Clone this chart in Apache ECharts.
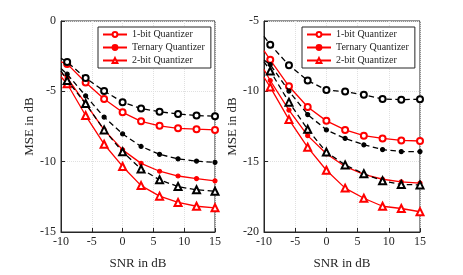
<!DOCTYPE html>
<html><head><meta charset="utf-8">
<script src="https://cdn.jsdelivr.net/npm/echarts@6/dist/echarts.min.js"></script>
<style>html,body{margin:0;padding:0;background:#fff}#c{width:463px;height:275px}</style>
</head><body><div id="c"></div>
<script>
const snr = [-10, -9, -6, -3, 0, 3, 6, 9, 12, 15];
const xTicks = [-10, -5, 0, 5, 10, 15];
const legendNames = ['1-bit Quantizer', 'Ternary Quantizer', '2-bit Quantizer'];

// Left panel
const leftBlack1bit   = [-2.65, -2.92, -4.05, -4.98, -5.77, -6.22, -6.45, -6.61, -6.72, -6.77];
const leftRed1bit     = [-2.90, -3.05, -4.37, -5.54, -6.49, -7.13, -7.45, -7.63, -7.69, -7.74];
const leftBlackTern   = [-3.37, -3.78, -5.32, -6.83, -8.03, -8.92, -9.48, -9.80, -9.96, -10.05];
const leftRedTern     = [-3.67, -4.05, -5.88, -7.74, -9.16, -10.12, -10.68, -11.02, -11.20, -11.36];
const leftBlack2bit   = [-3.55, -4.23, -5.87, -7.74, -9.30, -10.52, -11.29, -11.77, -12.00, -12.10];
const leftRed2bit     = [-3.96, -4.46, -6.72, -8.76, -10.34, -11.70, -12.45, -12.90, -13.17, -13.28];

// Right panel
const rightBlack1bit  = [-6.10, -6.68, -8.15, -9.23, -9.91, -10.02, -10.25, -10.54, -10.59, -10.56];
const rightRed1bit    = [-7.10, -7.76, -9.64, -11.11, -12.10, -12.74, -13.15, -13.35, -13.49, -13.53];
const rightBlackTern  = [-7.77, -8.10, -9.98, -11.65, -12.74, -13.35, -13.80, -14.14, -14.28, -14.28];
const rightRedTern    = [-8.45, -9.23, -11.34, -13.15, -14.44, -15.34, -15.90, -16.25, -16.43, -16.52];
const rightBlack2bit  = [-7.89, -8.55, -10.77, -12.70, -14.32, -15.23, -15.86, -16.36, -16.62, -16.65];
const rightRed2bit    = [-9.00, -9.70, -12.01, -13.98, -15.61, -16.88, -17.60, -18.17, -18.33, -18.56];

const FONT = 'Liberation Serif';
const AX = '#262626';

function pts(arr) {
  return arr.map((v, i) => i === 0 ? { value: [snr[i], v], symbol: 'none' } : [snr[i], v]);
}
function ser(name, arr, idx, color, symbol, size, dashed) {
  return {
    name: name, type: 'line', xAxisIndex: idx, yAxisIndex: idx,
    data: pts(arr), symbol: symbol, symbolSize: size, showSymbol: true,
    lineStyle: { color: color, width: 1.3, type: dashed ? [5.5, 3.5] : 'solid' },
    itemStyle: { color: color, borderColor: color, borderWidth: 1.2 },
    emphasis: { disabled: true }, animation: false, z: dashed ? 3 : 2
  };
}
function xAx(gi) {
  return {
    gridIndex: gi, type: 'value', min: -10, max: 15, interval: 5,
    axisLine: { show: true, onZero: false, lineStyle: { color: AX, width: 1 } },
    axisTick: { show: true, inside: true, length: 4, lineStyle: { color: AX } },
    axisLabel: { color: AX, fontFamily: FONT, fontSize: 12, margin: 4 },
    splitLine: { show: true, lineStyle: { color: '#e0e0e0', type: 'dotted' } },
    name: 'SNR in dB', nameLocation: 'middle', nameGap: 25,
    nameTextStyle: { color: AX, fontFamily: FONT, fontSize: 13 }
  };
}
function yAx(gi, mn, mx) {
  return {
    gridIndex: gi, type: 'value', min: mn, max: mx, interval: 5,
    axisLine: { show: true, onZero: false, lineStyle: { color: AX, width: 1 } },
    axisTick: { show: true, inside: true, length: 4, lineStyle: { color: AX } },
    axisLabel: { color: AX, fontFamily: FONT, fontSize: 12, margin: 5 },
    splitLine: { show: true, lineStyle: { color: '#e0e0e0', type: 'dotted' } },
    name: 'MSE in dB', nameLocation: 'middle', nameGap: 24,
    nameTextStyle: { color: AX, fontFamily: FONT, fontSize: 13 }
  };
}
function legend(left) {
  return {
    data: legendNames, orient: 'vertical', left: left, top: 27,
    itemWidth: 24, itemHeight: 6, itemGap: 2,
    padding: [2, 6, 2, 4], borderColor: AX, borderWidth: 1, backgroundColor: '#fff',
    textStyle: { color: AX, fontFamily: FONT, fontSize: 10, lineHeight: 11 }, selectedMode: false
  };
}

const chart = echarts.init(document.getElementById('c'), null, { renderer: 'canvas' });
chart.setOption({
  backgroundColor: '#fff',
  animation: false,
  grid: [
    { left: 61, top: 21, width: 154, height: 221, show: true, borderColor: AX, borderWidth: 1 },
    { left: 264, top: 21, width: 156, height: 221, show: true, borderColor: AX, borderWidth: 1 }
  ],
  xAxis: [xAx(0), xAx(1)],
  yAxis: [yAx(0, -15, 0), yAx(1, -20, -5)],
  legend: [legend(98), legend(302)],
  series: [
    ser('L-1bit-ideal', leftBlack1bit, 0, '#000', 'emptyCircle', 6, true),
    ser('L-tern-ideal', leftBlackTern, 0, '#000', 'circle', 4, true),
    ser('L-2bit-ideal', leftBlack2bit, 0, '#000', 'emptyTriangle', 7, true),
    ser(legendNames[0], leftRed1bit, 0, '#ff0000', 'emptyCircle', 6, false),
    ser(legendNames[1], leftRedTern, 0, '#ff0000', 'circle', 4, false),
    ser(legendNames[2], leftRed2bit, 0, '#ff0000', 'emptyTriangle', 7, false),
    ser('R-1bit-ideal', rightBlack1bit, 1, '#000', 'emptyCircle', 6, true),
    ser('R-tern-ideal', rightBlackTern, 1, '#000', 'circle', 4, true),
    ser('R-2bit-ideal', rightBlack2bit, 1, '#000', 'emptyTriangle', 7, true),
    ser(legendNames[0] , rightRed1bit, 1, '#ff0000', 'emptyCircle', 6, false),
    ser(legendNames[1] , rightRedTern, 1, '#ff0000', 'circle', 4, false),
    ser(legendNames[2] , rightRed2bit, 1, '#ff0000', 'emptyTriangle', 7, false)
  ]
});
</script></body></html>
